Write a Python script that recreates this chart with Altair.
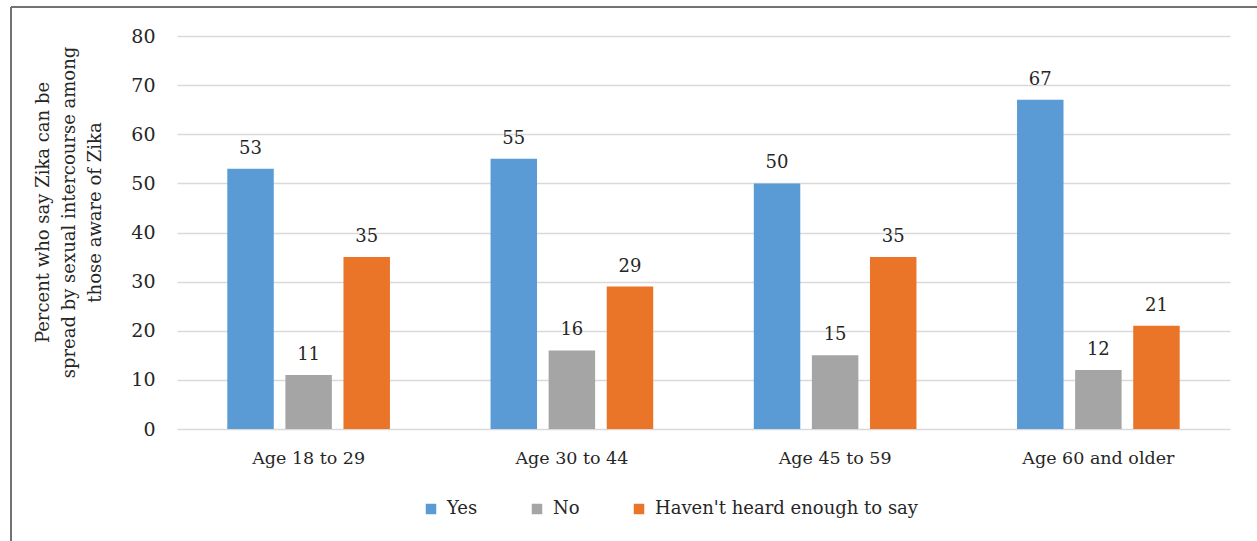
import altair as alt
import pandas as pd

categories = ["Age 18 to 29", "Age 30 to 44", "Age 45 to 59", "Age 60 and older"]
series = ["Yes", "No", "Haven't heard enough to say"]
yes_vals = [53, 55, 50, 67]
no_vals = [11, 16, 15, 12]
havent_vals = [35, 29, 35, 21]
colors = ["#5B9BD5", "#A5A5A5", "#EA7427"]
y_ticks = [0, 10, 20, 30, 40, 50, 60, 70, 80]

rows = []
for i, c in enumerate(categories):
    for s, vals in zip(series, [yes_vals, no_vals, havent_vals]):
        rows.append({"category": c, "series": s, "value": vals[i]})
df = pd.DataFrame(rows)

FONT = "DejaVu Serif"
TXT = "#262626"

base = alt.Chart(df).encode(
    x=alt.X("category:N", sort=categories,
            scale=alt.Scale(paddingInner=0.338, paddingOuter=0.169),
            axis=alt.Axis(title=None, labelAngle=0, labelFontSize=17.5, labelFont=FONT,
                          labelColor=TXT, ticks=False, domain=False, labelPadding=20)),
    xOffset=alt.XOffset("series:N", sort=series,
                        scale=alt.Scale(paddingInner=0.2, paddingOuter=0.1)),
)

bars = base.mark_bar().encode(
    y=alt.Y("value:Q", scale=alt.Scale(domain=[0, 80]),
            axis=alt.Axis(values=y_ticks, title=["Percent who say Zika can be",
                                                "spread by sexual intercourse among",
                                                "those aware of Zika"],
                          titleFont=FONT, titleFontSize=18, titleFontWeight="normal",
                          titleColor=TXT, titleLineHeight=26,
                          titleAngle=-90, titleX=-143, titleY=176, titleAlign="center",
                          titleBaseline="top",
                          labelFont=FONT, labelFontSize=19, labelColor=TXT,
                          labelPadding=22, ticks=False, domain=False,
                          gridColor="#D9D9D9", gridWidth=1.5)),
    color=alt.Color("series:N", sort=series,
                    scale=alt.Scale(domain=series, range=colors),
                    legend=alt.Legend(title=None, orient="none", direction="horizontal",
                                      legendX=245, legendY=464, columns=3,
                                      symbolType="square", symbolSize=110,
                                      symbolStrokeWidth=0, symbolOpacity=1,
                                      labelFont=FONT, labelFontSize=18, labelColor=TXT,
                                      labelLimit=0, columnPadding=50, labelOffset=7)),
)

labels = base.mark_text(dy=-11, baseline="bottom", font=FONT, fontSize=18,
                        color=TXT).encode(
    y=alt.Y("value:Q"),
    text=alt.Text("value:Q"),
)

frame_df = pd.DataFrame({"a": [0]})
left_line = alt.Chart(frame_df).mark_rule(color="#767171", strokeWidth=2).encode(
    x=alt.value(-166), y=alt.value(-29), y2=alt.value(520))
top_line = alt.Chart(frame_df).mark_rule(color="#767171", strokeWidth=2).encode(
    x=alt.value(-166), x2=alt.value(1100), y=alt.value(-29))

chart = alt.layer(bars, labels, left_line, top_line).properties(
    width=1053, height=393,
    autosize=alt.AutoSizeParams(type="none"),
    padding={"left": 177, "top": 36, "right": 27, "bottom": 112},
    background="white",
).configure_view(stroke=None)

chart.save("out.html", embed_options={"renderer": "svg", "actions": False})
